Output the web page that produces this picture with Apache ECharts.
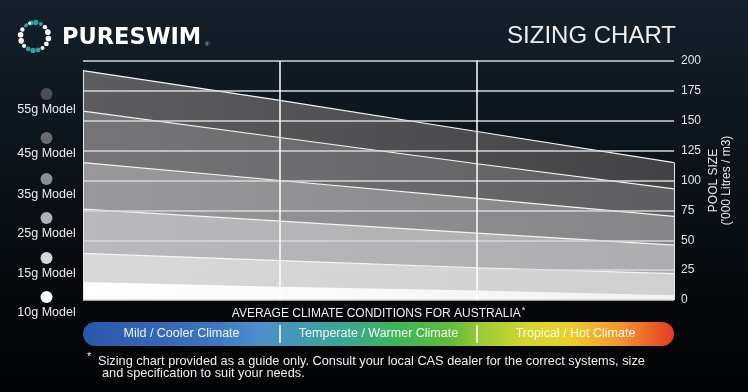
<!DOCTYPE html>
<html><head><meta charset="utf-8">
<script src="https://cdn.jsdelivr.net/npm/echarts@6/dist/echarts.min.js"></script>
<style>html,body{margin:0;padding:0;background:#000;}#c{width:748px;height:392px;}</style>
</head><body><div id="c"></div>
<script>
// ---- data ----
const positions = ['0', '1', '2', '3'];
const climateZones = ['Mild / Cooler Climate', 'Temperate / Warmer Climate', 'Tropical / Hot Climate'];
const models = ['55g Model', '45g Model', '35g Model', '25g Model', '15g Model', '10g Model'];
const max55g = [192, 167, 141, 115];
const max45g = [158, 136, 114, 93];
const max35g = [115, 100, 85, 70];
const max25g = [76, 66, 56, 46];
const max15g = [39, 33, 27, 22];
const max10g = [15, 11, 8, 4];
const yMin = 0, yMax = 200, yInterval = 25;
const axisTitle = "POOL SIZE\n('000 Litres / m3)";
const xTitle = 'AVERAGE CLIMATE CONDITIONS FOR AUSTRALIA';
const footLine1 = 'Sizing chart provided as a guide only. Consult your local CAS dealer for the correct systems, size';
const footLine2 = 'and specification to suit your needs.';

// ---- styles ----
const seriesData = [max55g, max45g, max35g, max25g, max15g, max10g];
const bandLeft = ['#5d5d5f', '#767678', '#98989a', '#b9b9bb', '#d8d8d9', '#ffffff'];
const bandRight = ['#434345', '#5e5e60', '#858587', '#adadaf', '#d0d0d1', '#f2f2f2'];
const dotColors = ['#4e4f53', '#6b6c6f', '#8d8e91', '#b1b2b4', '#d6d7d8', '#ffffff'];
const legendDotY = [94, 138, 179, 218, 258, 297];
const FONT = '"Liberation Sans", Arial, sans-serif';
const gridL = 83, gridR = 674, gridT = 61, gridB = 300;

const chart = echarts.init(document.getElementById('c'));

const graphic = [];
// background
graphic.push({type: 'rect', z: -100, silent: true, shape: {x: 0, y: 0, width: 748, height: 392},
  style: {fill: new echarts.graphic.LinearGradient(0, 0, 0, 1, [
    {offset: 0, color: '#14202b'}, {offset: 0.45, color: '#0b1218'}, {offset: 1, color: '#010203'}])}});
// logo ring
const ring = [[-35,'#2aa39a',1.8],[-15,'#2aa39a',2.5],[5,'#2aa39a',2.7],[27,'#2aa39a',2],[48,'#ffffff',2.2],
  [72,'#ffffff',2.8],[98,'#ffffff',2.8],[122,'#ffffff',2.4],[145,'#ffffff',2],[165,'#2aa39a',2.4],[186,'#2aa39a',2.7],
  [207,'#2aa39a',2.4],[228,'#ffffff',2.1],[252,'#ffffff',2.8],[277,'#ffffff',2.8],[300,'#ffffff',2.2],[320,'#2aa39a',1.6],[340,'#ffffff',1.5]];
ring.forEach(([a, c, r]) => {
  const rad = a * Math.PI / 180;
  graphic.push({type: 'circle', silent: true, shape: {cx: 34.5 + 14 * Math.sin(rad), cy: 36.5 - 14 * Math.cos(rad), r: r}, style: {fill: c}});
});
graphic.push({type: 'text', x: 62, y: 38, silent: true, style: {text: 'PURESWIM', fill: '#ffffff',
  font: 'bold 22.5px "DejaVu Sans", sans-serif', textVerticalAlign: 'middle'}});
graphic.push({type: 'text', x: 205, y: 44, silent: true, style: {text: '®', fill: '#cccccc', font: '6px sans-serif', textVerticalAlign: 'middle'}});
// title
graphic.push({type: 'text', x: 676, y: 36, silent: true, style: {text: 'SIZING CHART', fill: '#f0f0f0',
  font: '24px ' + FONT, textAlign: 'right', textVerticalAlign: 'middle'}});
// model legend
models.forEach((m, i) => {
  graphic.push({type: 'circle', silent: true, shape: {cx: 46.5, cy: legendDotY[i], r: 6}, style: {fill: dotColors[i]}});
  graphic.push({type: 'text', silent: true, x: 46.5, y: legendDotY[i] + 15.5, style: {text: m, fill: '#ececec',
    font: '12.5px ' + FONT, textAlign: 'center', textVerticalAlign: 'middle'}});
});
// climate bar
graphic.push({type: 'rect', silent: true, z: 0, shape: {x: gridL, y: 322, width: gridR - gridL, height: 24, r: 12},
  style: {fill: new echarts.graphic.LinearGradient(0, 0, 1, 0, [
    {offset: 0, color: '#2b56a8'}, {offset: 0.2, color: '#3a72bd'}, {offset: 0.3, color: '#4d8fcb'},
    {offset: 0.36, color: '#4497b6'}, {offset: 0.45, color: '#3ba890'}, {offset: 0.53, color: '#3fb45a'},
    {offset: 0.62, color: '#60bb3c'}, {offset: 0.68, color: '#a0cc36'}, {offset: 0.75, color: '#d2d62e'},
    {offset: 0.82, color: '#ead02c'}, {offset: 0.91, color: '#f2962e'}, {offset: 1, color: '#e63a26'}])}});
[1, 2].forEach(k => {
  const x = gridL + (gridR - gridL) * k / 3;
  graphic.push({type: 'line', silent: true, z: 1, shape: {x1: x, y1: 325, x2: x, y2: 343}, style: {stroke: '#ffffff', lineWidth: 1.5}});
});
// footnote
graphic.push({type: 'text', silent: true, x: 87, y: 357, style: {text: '*', fill: '#f0f0f0', font: '11px ' + FONT, textVerticalAlign: 'middle'}});
graphic.push({type: 'text', silent: true, x: 98, y: 361, style: {text: footLine1, fill: '#f0f0f0', font: '12.75px ' + FONT, textVerticalAlign: 'middle'}});
graphic.push({type: 'text', silent: true, x: 102, y: 373, style: {text: footLine2, fill: '#f0f0f0', font: '12.75px ' + FONT, textVerticalAlign: 'middle'}});

const series = models.map((name, i) => ({
  name: name, type: 'line', data: seriesData[i], symbol: 'none', silent: true,
  lineStyle: {color: '#f4f4f4', width: i === 5 ? 0 : 1.2},
  areaStyle: {opacity: 1, color: new echarts.graphic.LinearGradient(0, 0, 1, 0, [
    {offset: 0, color: bandLeft[i]}, {offset: 1, color: bandRight[i]}])}
}));
series[0].markLine = {silent: true, symbol: ['none', 'none'], label: {show: false},
  lineStyle: {color: '#e6e6e6', width: 1, type: 'solid'},
  data: [[{coord: [positions[0], 0]}, {coord: [positions[0], max55g[0]]}],
         [{coord: [positions[3], 0]}, {coord: [positions[3], max55g[3]]}]]};

chart.setOption({
  animation: false,
  backgroundColor: 'transparent',
  grid: {left: gridL, right: 748 - gridR, top: gridT, bottom: 392 - gridB},
  xAxis: [
    {type: 'category', data: positions, boundaryGap: false, position: 'bottom', z: 5,
     axisLine: {show: false}, axisTick: {show: false}, axisLabel: {show: false},
     splitLine: {show: true, interval: (i) => i === 1 || i === 2, lineStyle: {color: '#ffffff', width: 1.5}},
     name: '{a|' + xTitle + '}{s|*}', nameLocation: 'middle', nameGap: 6, nameMoveOverlap: false,
     nameTextStyle: {rich: {a: {color: '#f0f0f0', fontSize: 12, fontFamily: FONT},
                            s: {color: '#f0f0f0', fontSize: 9, fontFamily: FONT, padding: [0, 0, 6, 1]}}}},
    {type: 'category', data: climateZones, boundaryGap: true, position: 'bottom', z: 10,
     axisLine: {show: false}, axisTick: {show: false}, splitLine: {show: false},
     axisLabel: {color: 'rgba(255,255,255,0.92)', fontSize: 12.5, fontFamily: FONT, margin: 27, interval: 0}}
  ],
  yAxis: {type: 'value', position: 'right', min: yMin, max: yMax, interval: yInterval, z: 5,
    axisLine: {show: false}, axisTick: {show: false},
    axisLabel: {color: '#e4e4e4', fontSize: 12, fontFamily: FONT, margin: 7, padding: [6, 0, 0, 0]},
    splitLine: {show: true, lineStyle: {color: '#d4d7da', width: 1.5}},
    name: axisTitle, nameLocation: 'middle', nameRotate: 90, nameGap: 33, nameMoveOverlap: false,
    nameTextStyle: {color: '#e8e8e8', fontSize: 12, lineHeight: 13, fontFamily: FONT, align: 'center'}},
  graphic: graphic,
  series: series
});
</script></body></html>
